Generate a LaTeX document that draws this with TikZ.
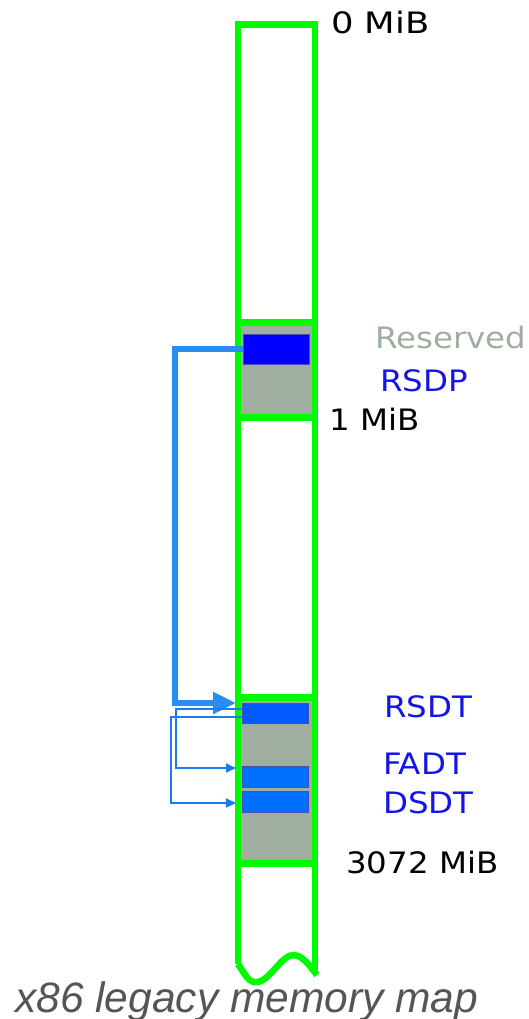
\documentclass[tikz,border=0pt]{standalone}
\usepackage{fontspec}
\newfontfamily\lblfont[FakeStretch=1.1]{DejaVu Sans}
\newfontfamily\widefont[FakeStretch=1.2]{DejaVu Sans}
\newfontfamily\capfont{Liberation Sans}
\usetikzlibrary{arrows.meta,calc}
\definecolor{memgreen}{RGB}{0,250,0}
\definecolor{resgray}{RGB}{160,174,160}
\definecolor{rsdpblue}{RGB}{0,0,255}
\definecolor{rsdtblue}{RGB}{0,90,255}
\definecolor{tblblue}{RGB}{0,112,255}
\definecolor{ptrblue}{RGB}{40,140,240}
\definecolor{subblue}{RGB}{25,125,240}
\definecolor{lblblue}{RGB}{20,20,230}
\definecolor{capgray}{RGB}{85,85,85}

\tikzset{
  lbl/.style={anchor=west, inner sep=0pt, font=\lblfont\fontsize{29.5}{34}\selectfont},
  tbl/.style={draw=blue!40!gray, line width=0.8pt, minimum width=66pt, inner sep=0pt},
  ptr/.style={draw=ptrblue, line width=5.5pt, -{Triangle[length=23pt,width=21pt]}},
  subptr/.style={draw=subblue, line width=2pt, -{Triangle[length=10pt,width=9pt]}},
  wall/.style={draw=memgreen, line width=6.5pt},
}

\begin{document}
\begin{tikzpicture}[x=1pt,y=-1pt]
\useasboundingbox (0,0) rectangle (529,1019);
% reserved areas
\fill[resgray] (238,322.5) rectangle (315,417.5);
\fill[resgray] (238,697.5) rectangle (315,863.5);
% memory column
\draw[wall] (238,964) -- (238,24.5) -- (315,24.5) -- (315,973);
\draw[wall] (238,964) .. controls (246,976) and (249,983) .. (257,982)
  .. controls (270,981) and (282,954) .. (294,955)
  .. controls (303,956) and (310,966) .. (317,975);
\foreach \y in {322.5,417.5,697.5,863.5}
  \draw[wall] (238,\y) -- (315,\y);
% tables
\node[tbl, fill=rsdpblue, minimum height=30pt] (rsdp) at (276,349) {};
\node[tbl, fill=rsdtblue, minimum height=20pt] (rsdt) at (275,713) {};
\node[tbl, fill=tblblue, minimum height=21pt] (fadt) at (275,776.5) {};
\node[tbl, fill=tblblue, minimum height=21pt] (dsdt) at (275,801.5) {};
\coordinate (rsdtin) at (236,703);
\coordinate (fadtin) at (236,768);
\coordinate (dsdtin) at (236,803);
% pointers
\draw[ptr] (rsdp.west) -- ++(-67.5,0) |- (rsdtin);
\draw[subptr] ($(rsdt.west)+(0,-4)$) -- ++(-66,0) |- (fadtin);
\draw[subptr] ($(rsdt.west)+(0,4)$) -- ++(-71,0) |- (dsdtin);
% labels
\node[lbl, font=\widefont\fontsize{29.5}{34}\selectfont] (mib0) at (331,23) {0 MiB};
\node[lbl, text=resgray] (reslbl) at (375,337) {Reserved};
\node[lbl, text=lblblue] (rsdplbl) at (380,381) {RSDP};
\node[lbl] (mib1) at (329,419) {1 MiB};
\node[lbl, text=lblblue] (rsdtlbl) at (384,707) {RSDT};
\node[lbl, text=lblblue] (fadtlbl) at (383,764) {FADT};
\node[lbl, text=lblblue] (dsdtlbl) at (383,803) {DSDT};
\node[lbl] (mib3072) at (346,862) {3072 MiB};
\node[anchor=base west, inner sep=0pt, text=capgray,
  font=\capfont\itshape\fontsize{42.5}{48}\selectfont] (caption) at (15,1012) {x86 legacy memory map};
\end{tikzpicture}
\end{document}
